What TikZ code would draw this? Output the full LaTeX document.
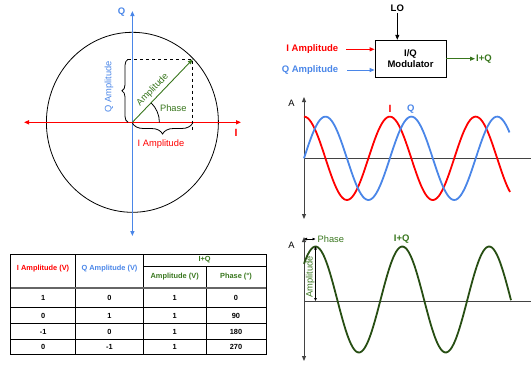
\documentclass[tikz,border=0pt]{standalone}
\usepackage{fontspec}
\setmainfont{Liberation Sans}
\usetikzlibrary{positioning, arrows.meta, decorations.pathreplacing}
\definecolor{iRed}{HTML}{ff0000}
\definecolor{qBlue}{HTML}{4a86e8}
\definecolor{iqGreen}{HTML}{38761d}
\definecolor{waveGreen}{HTML}{274e13}
\definecolor{axisGray}{HTML}{434343}
\definecolor{ruleGray}{HTML}{666666}
\newcommand{\fs}[2]{\fontsize{#1}{#2}\selectfont}

\begin{document}
\begin{tikzpicture}[x=1pt, y=1pt, lbl/.style={font=\fs{9.3}{11}, inner sep=1pt}, blbl/.style={font=\fs{9.5}{11.6}\bfseries, inner sep=1pt}, tbl/.style={font=\fs{7.4}{8.5}\bfseries, inner sep=0pt, align=center}, arr/.style={-{Triangle[length=5pt, width=4pt]}}, darr/.style={{Triangle[length=5pt, width=4pt]}-{Triangle[length=5pt, width=4pt]}}, sdarr/.style={{Triangle[length=3pt, width=2.5pt]}-{Triangle[length=3pt, width=2.5pt]}, line width=0.6pt}, wave/.style={line width=1.8pt, line join=round, smooth}]
\useasboundingbox (0,0) rectangle (531,-365);
% constellation
\coordinate (O) at (132.4,-122.3); \coordinate (P) at (192.7,-59.3);
\coordinate (qtop) at (132.4,-11); \coordinate (qbot) at (132.4,-236);
\coordinate (ileft) at (24,-122.3); \coordinate (iright) at (241,-122.3);
\draw[line width=0.8pt] (O) ellipse[x radius=86pt, y radius=90pt];
\draw[darr, qBlue, line width=1.2pt] (qbot) -- (qtop);
\draw[darr, iRed, line width=1.2pt] (ileft) -- (iright);
\node[blbl, qBlue] (qlab) at (121.5,-12.5) {Q};
\node[blbl, iRed, font=\fs{10.5}{12}\bfseries] (ilab) at (236,-133) {I};
\draw[dashed, line width=0.8pt] (128,-59.3) -- (P) -- (192.7,-130);
\draw[decorate, decoration={brace, amplitude=6pt}, line width=0.8pt] (128,-122.3) -- (128,-59.3);
\draw[decorate, decoration={brace, amplitude=11pt}, line width=0.8pt] (192.7,-123) -- (132.4,-123);
\draw[arr, iqGreen, line width=0.9pt] (O) -- (P) node[lbl, pos=0.43, sloped, above=2pt] (amp) {Amplitude};
\draw[line width=0.8pt] (159.4,-122.3) arc[start angle=0, end angle=46, radius=27pt];
\node[lbl, iqGreen] (phase) at (173.3,-107.7) {Phase};
\node[lbl, qBlue, rotate=90] (qamp) at (109,-87) {Q Amplitude};
\node[lbl, iRed] (iamp) at (161,-144) {I Amplitude};
% modulator
\node[draw, line width=0.8pt, minimum width=71pt, minimum height=37pt, align=center, font=\fs{9.5}{11.6}\bfseries] (mod) at (410.5,-58.7) {I/Q\\Modulator};
\node[blbl] (lo) at (397.3,-8.3) {LO};
\draw[arr, line width=0.8pt] (lo.south) -- (lo.south |- mod.north);
\node[blbl, iRed] (ia) at (312.3,-49.3) {I Amplitude};
\node[blbl, qBlue] (qa) at (310,-70) {Q Amplitude};
\draw[arr, iRed, line width=0.9pt] ([xshift=7pt]ia.east) -- (ia -| mod.west);
\draw[arr, qBlue, line width=0.9pt] ([xshift=8pt]qa.east) -- (qa -| mod.west);
\node[blbl, iqGreen] (iq) at (484,-58.7) {I+Q};
\draw[arr, iqGreen, line width=0.9pt] (mod.east) -- (iq.west);
% I and Q waves
\draw[darr, axisGray, line width=1pt] (304,-219) -- (304,-97);
\draw[axisGray, line width=1pt] (304,-158.3) -- (531,-158.3);
\node[lbl] (a1) at (291.5,-103) {A};
\draw[wave, iRed] plot[domain=304:510, samples=120] (\x, {-158.3+41.7*cos(4.193*(\x-304))});
\draw[wave, qBlue] plot[domain=304:509.5, samples=120] (\x, {-158.3+41.7*sin(4.193*(\x-304))});
\node[blbl, iRed, font=\fs{10.5}{12}\bfseries] (ilbl) at (390,-109) {I};
\node[blbl, qBlue] (qlbl) at (410.7,-109) {Q};
% sum wave
\draw[darr, axisGray, line width=1pt] (304,-361) -- (304,-237);
\draw[axisGray, line width=1pt] (304,-301) -- (531,-301);
\node[lbl] (a2) at (291.5,-245) {A};
\draw[wave, waveGreen] plot[domain=304:511, samples=120] (\x, {-299.5+53*cos(4.147*(\x-315.5))});
\coordinate (pk) at (315.5,-246.5); \coordinate (pk0) at (315.5,-301);
\coordinate (ph0) at (304,-239); \coordinate (ph1) at (315.5,-239);
\draw[sdarr] (ph0) -- (ph1);
\node[lbl, iqGreen, anchor=west] (ph2) at (316.5,-239) {Phase};
\draw[sdarr] (pk) -- (pk0);
\node[lbl, iqGreen, rotate=90] (amp2) at (310.3,-276.7) {Amplitude};
\node[blbl, iqGreen] (iq2) at (401.7,-239) {I+Q};
% table
\draw[line width=0.8pt] (10.5,-254) rectangle (266,-354.3);
\draw[line width=0.8pt] (75.7,-254) -- (75.7,-354.3);
\draw[line width=0.8pt] (143.3,-254) -- (143.3,-354.3);
\draw[line width=0.8pt] (206,-266) -- (206,-354.3);
\draw[line width=0.8pt] (143.3,-266) -- (266,-266);
\draw[ruleGray, line width=2pt] (10.5,-288) -- (266,-288);
\foreach \ry in {307.7,323.7,339.3} \draw[line width=0.8pt] (10.5,-\ry) -- (266,-\ry);
\node[tbl, iRed] (hi) at (43.1,-268.3) {I Amplitude (V)};
\node[tbl, qBlue] (hq) at (109.5,-268.3) {Q Amplitude (V)};
\node[tbl, iqGreen] (hiq) at (204.6,-259.5) {I+Q};
\node[tbl, iqGreen] (hamp) at (174.7,-277) {Amplitude (V)};
\node[tbl, iqGreen] (hph) at (236,-277) {Phase (°)};
\foreach \iv/\qv/\av/\pv/\ry [count=\r] in {1/0/1/0/298, 0/1/1/90/315.7, -1/0/1/180/331.5, 0/-1/1/270/346.8} {
\node[tbl] (ci\r) at (43.1,-\ry) {\iv}; \node[tbl] (cq\r) at (109.5,-\ry) {\qv};
\node[tbl] (ca\r) at (174.7,-\ry) {\av}; \node[tbl] (cp\r) at (236,-\ry) {\pv};
}
\end{tikzpicture}
\end{document}
